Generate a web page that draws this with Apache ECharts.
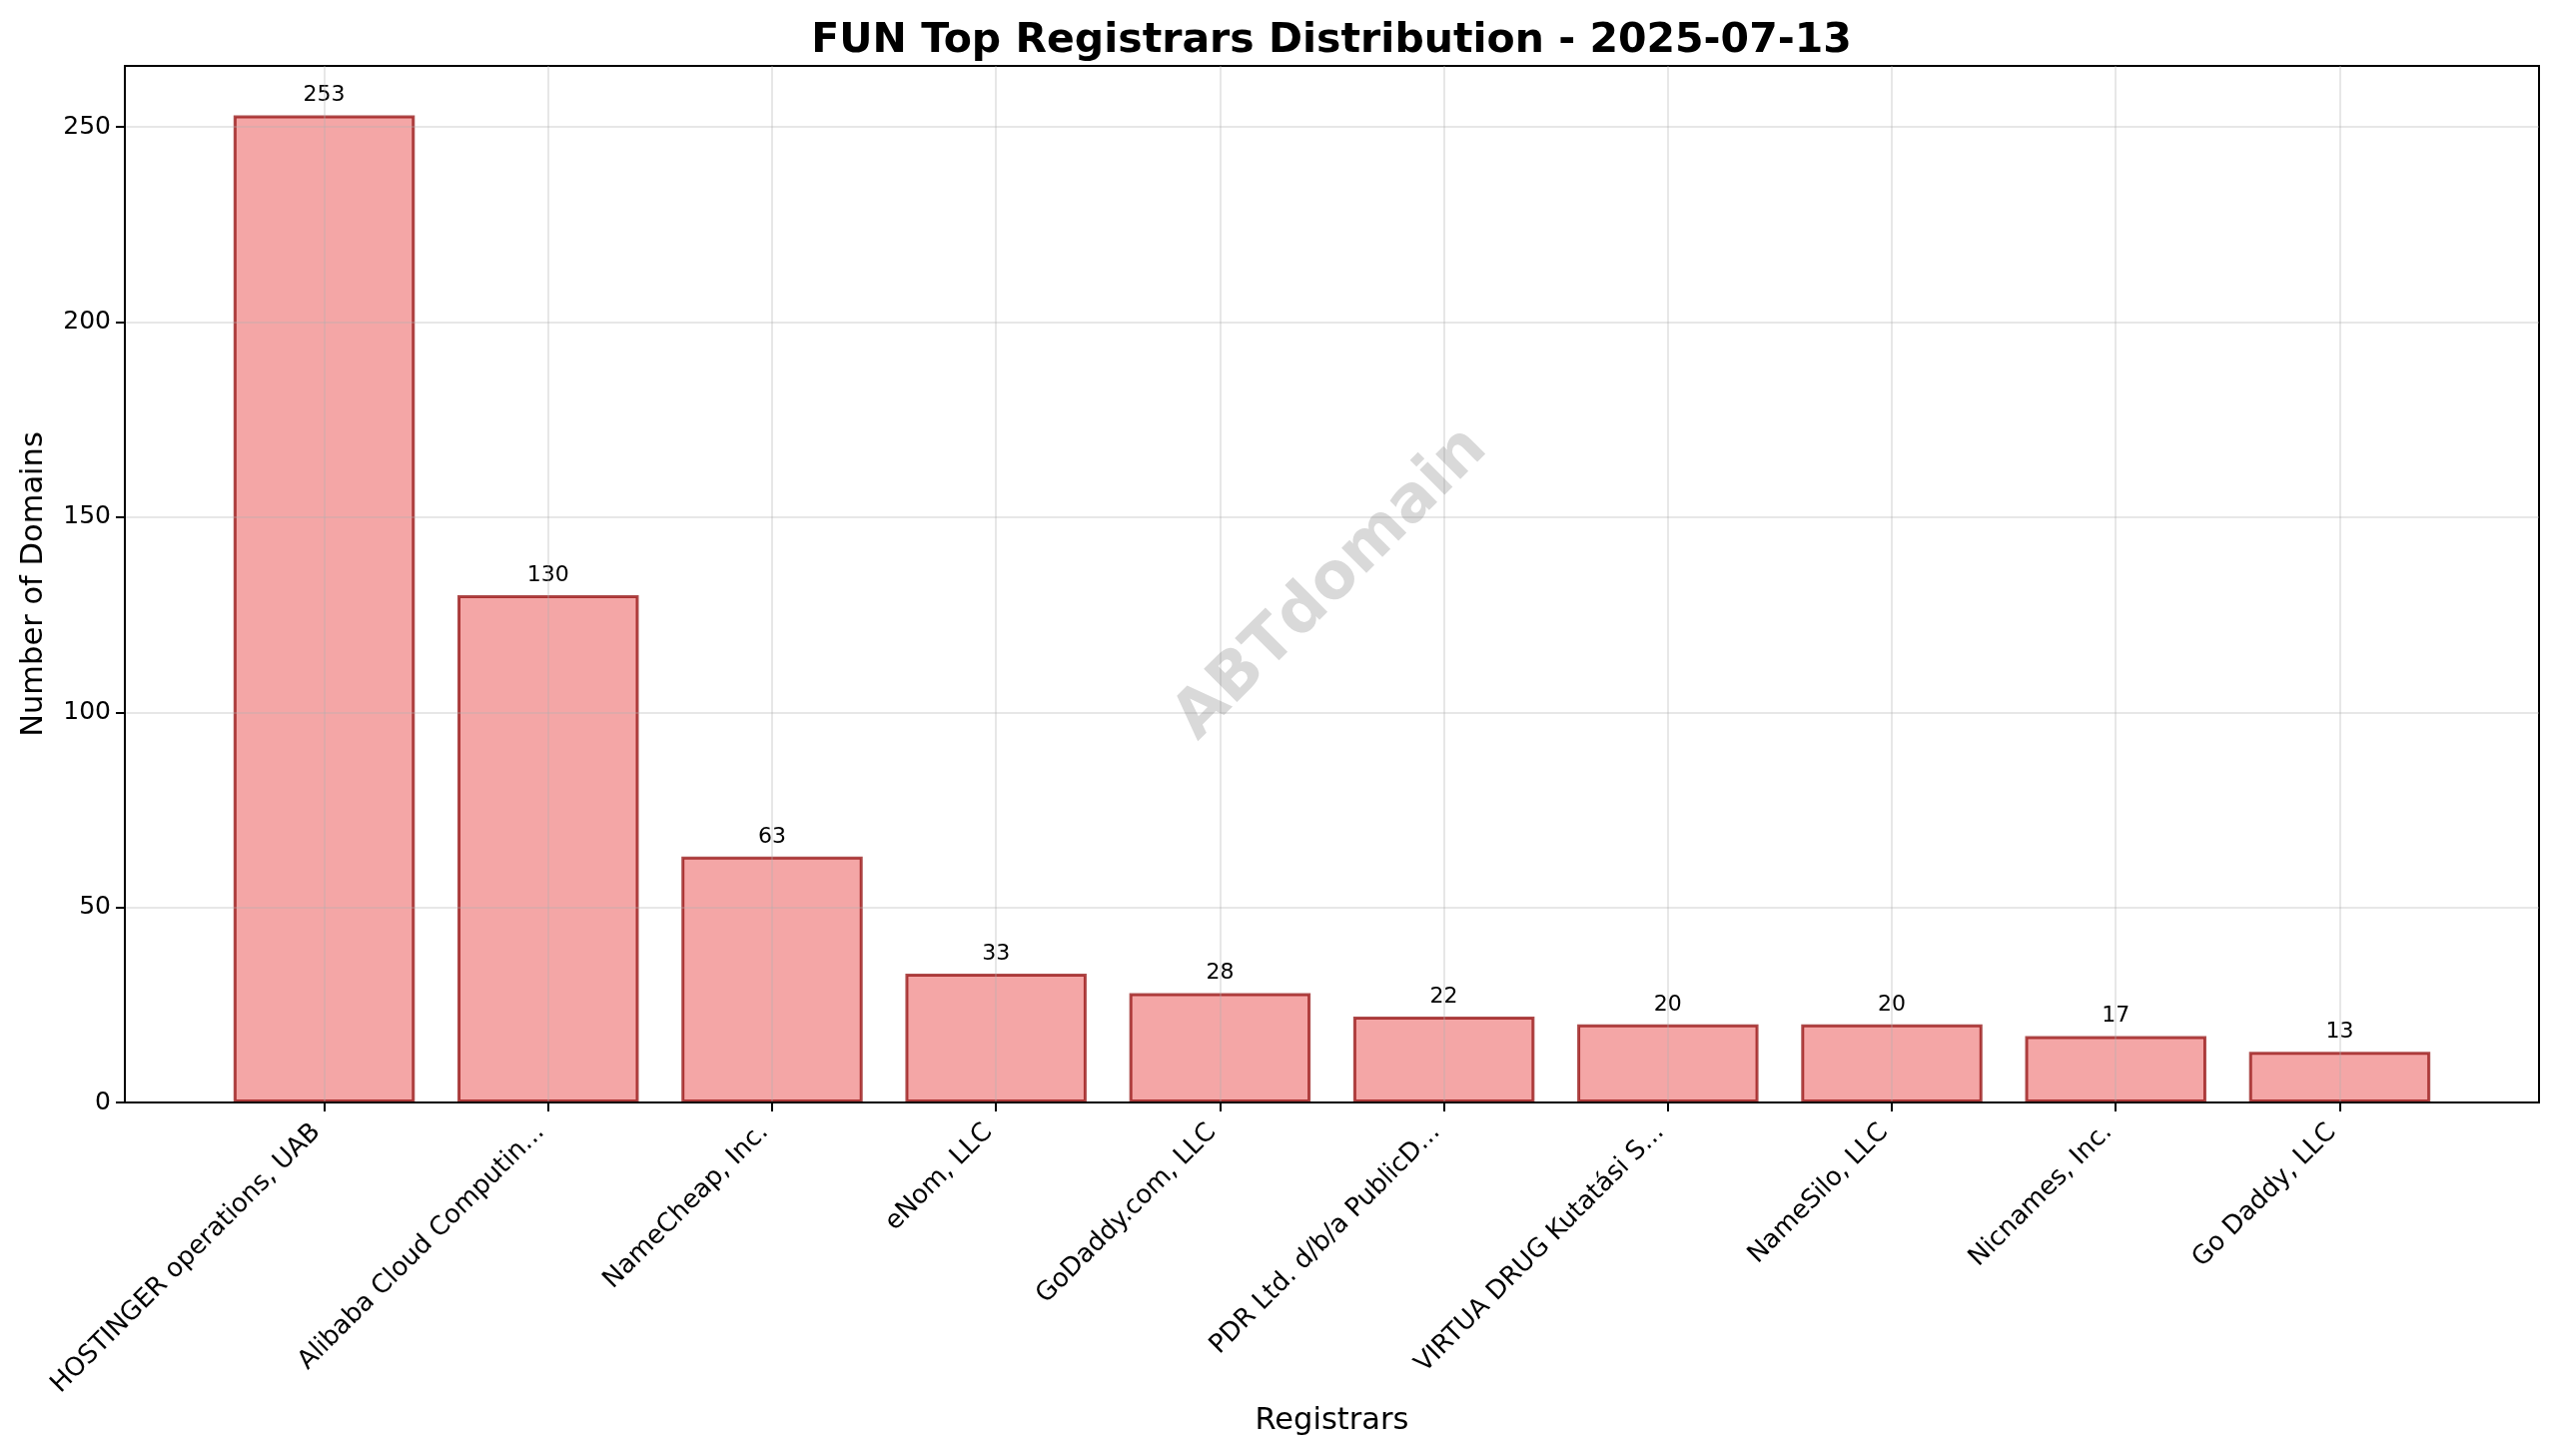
<!DOCTYPE html>
<html>
<head>
<meta charset="utf-8">
<style>
html, body { margin: 0; padding: 0; background: #fff; }
#chart { width: 2560px; height: 1458px; }
</style>
<script src="https://cdn.jsdelivr.net/npm/echarts@6/dist/echarts.min.js"></script>
</head>
<body>
<div id="chart"></div>
<script>
"use strict";
const categories = ['HOSTINGER operations, UAB', 'Alibaba Cloud Computin...', 'NameCheap, Inc.', 'eNom, LLC',
    'GoDaddy.com, LLC', 'PDR Ltd. d/b/a PublicD...', 'VIRTUA DRUG Kutatási S...', 'NameSilo, LLC', 'Nicnames, Inc.', 'Go Daddy, LLC'];
const domains = [253, 130, 63, 33, 28, 22, 20, 20, 17, 13];
const yTicks = [0, 50, 100, 150, 200, 250];

(() => {
    const font = '"DejaVu Sans"';
    const chart = echarts.init(document.getElementById('chart'));
    const positions = categories.map((c, i) => i);
    const frame = '#000';
    const gridLine = {show: true, lineStyle: {color: 'rgba(176,176,176,0.3)', width: 2}};
    chart.setOption({
        animation: false,
        backgroundColor: '#fff',
        textStyle: {fontFamily: font},
        title: {
            text: 'FUN Top Registrars Distribution - 2025-07-13',
            left: 1328,
            top: 16,
            textAlign: 'center',
            textStyle: {fontFamily: font, fontSize: 41, fontWeight: 'bold', color: '#000'}
        },
        grid: {
            left: 125, right: 18, top: 66, bottom: 354,
            show: true, borderColor: frame, borderWidth: 2, backgroundColor: 'transparent'
        },
        xAxis: {
            type: 'value',
            min: -0.89,
            max: 9.89,
            z: 3,
            name: 'Registrars',
            nameLocation: 'middle',
            nameGap: 319,
            nameTextStyle: {fontFamily: font, fontSize: 30.5, color: '#000', verticalAlign: 'middle'},
            axisLine: {show: true, onZero: false, lineStyle: {color: frame, width: 2}},
            axisTick: {show: true, customValues: positions, length: 9, lineStyle: {color: frame, width: 2}},
            axisLabel: {
                customValues: positions,
                formatter: v => categories[v],
                rotate: 45,
                margin: 18,
                padding: [0, 11, 0, 0],
                fontFamily: font,
                fontSize: 25.8,
                color: '#000'
            },
            splitLine: gridLine
        },
        yAxis: {
            type: 'value',
            min: 0,
            max: 265.65,
            z: 3,
            name: 'Number of Domains',
            nameLocation: 'middle',
            nameGap: 91,
            nameTextStyle: {fontFamily: font, fontSize: 30.5, color: '#000', verticalAlign: 'middle'},
            axisLine: {show: true, onZero: false, lineStyle: {color: frame, width: 2}},
            axisTick: {show: true, customValues: yTicks, length: 9, lineStyle: {color: frame, width: 2}},
            axisLabel: {customValues: yTicks, margin: 14, padding: [8, 0, 0, 0], fontFamily: font, fontSize: 25, color: '#000'},
            splitLine: gridLine
        },
        graphic: [{
            type: 'text',
            x: 1333,
            y: 585,
            rotation: Math.PI / 4,
            z: 10,
            style: {
                text: 'ABTdomain',
                fontFamily: font,
                fontSize: 64.5,
                fontWeight: 'bold',
                fill: 'rgba(128,128,128,0.3)',
                align: 'center',
                verticalAlign: 'middle'
            }
        }],
        series: [{
            name: 'Domains',
            type: 'bar',
            barWidth: 181.5,
            data: domains.map((v, i) => [i, v]),
            itemStyle: {color: 'rgba(240,128,128,0.7)', borderColor: 'rgba(139,0,0,0.7)', borderWidth: 3},
            label: {
                show: true,
                position: 'top',
                distance: 9,
                formatter: p => String(p.value[1]),
                fontFamily: font,
                fontSize: 22,
                color: '#000'
            }
        }]
    });
})();
</script>
</body>
</html>
